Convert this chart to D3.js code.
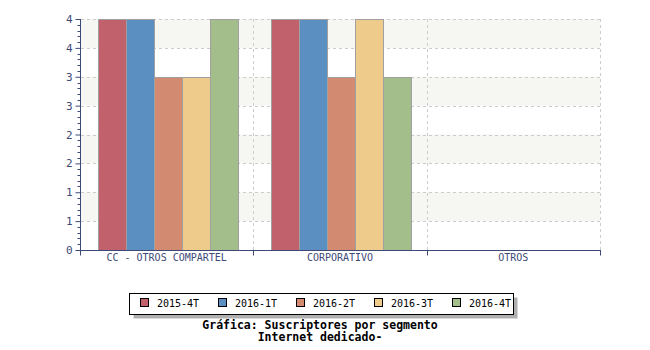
<!DOCTYPE html>
<html>
<head>
<meta charset="utf-8">
<script src="https://cdn.jsdelivr.net/npm/d3@7"></script>
<style>
html,body{margin:0;padding:0;background:#fff;}
svg{display:block;}
</style>
</head>
<body>
<svg id="chart" width="650" height="350"></svg>
<script>
const categories = ["CC - OTROS COMPARTEL", "CORPORATIVO", "OTROS"];
const seriesNames = ["2015-4T", "2016-1T", "2016-2T", "2016-3T", "2016-4T"];
const s2015_4T = [4, 4, null];
const s2016_1T = [4, 4, null];
const s2016_2T = [3, 3, null];
const s2016_3T = [3, 4, null];
const s2016_4T = [4, 3, null];
const seriesValues = [s2015_4T, s2016_1T, s2016_2T, s2016_3T, s2016_4T];
const seriesColors = ["#c0616b", "#5b8fc1", "#d28a70", "#eecb8b", "#a4be8b"];
const yTicks = [0, 0.5, 1, 1.5, 2, 2.5, 3, 3.5, 4];
const titleLines = ["Gráfica: Suscriptores por segmento", "Internet dedicado-"];

const svg = d3.select("#chart");
const L = 80, R = 600, T = 19, B = 250;
const axisColor = "#3d4a78";
const font = "'DejaVu Sans Mono', monospace";

const x = d3.scaleBand().domain(categories).range([L, R]).padding(0);
const x1 = d3.scaleBand().domain(seriesNames).range([0, x.bandwidth()]).paddingOuter(0.6).paddingInner(0);
const y = d3.scaleLinear().domain([0, 4]).range([B, T]);

// alternating bands
for (let i = 0; i < yTicks.length - 1; i++) {
  if (i % 2 === 1) {
    svg.append("rect").attr("x", L + 1).attr("y", y(yTicks[i + 1]))
      .attr("width", R - L - 1).attr("height", y(yTicks[i]) - y(yTicks[i + 1]))
      .attr("fill", "#f6f6f2");
  }
}
// horizontal grid
svg.append("g").selectAll("line").data(yTicks.slice(1)).join("line")
  .attr("x1", L + 1).attr("x2", R).attr("y1", d => Math.round(y(d)) + 0.5).attr("y2", d => Math.round(y(d)) + 0.5)
  .attr("stroke", "#cccccc").attr("stroke-dasharray", "3,3");
// vertical grid
svg.append("g").selectAll("line").data(categories).join("line")
  .attr("x1", d => Math.round(x(d) + x.bandwidth()) + 0.5).attr("x2", d => Math.round(x(d) + x.bandwidth()) + 0.5)
  .attr("y1", T).attr("y2", B)
  .attr("stroke", "#cccccc").attr("stroke-dasharray", "3,3");

// bars
const g = svg.append("g");
categories.forEach((c, ci) => {
  seriesNames.forEach((s, si) => {
    const v = seriesValues[si][ci];
    if (v == null) return;
    g.append("rect")
      .attr("x", Math.round(x(c) + x1(s)) + 1.5)
      .attr("y", Math.round(y(v)) + 0.5)
      .attr("width", Math.round(x1.bandwidth()))
      .attr("height", Math.round(y(0)) - Math.round(y(v)))
      .attr("fill", seriesColors[si])
      .attr("stroke", "#a0a0a0").attr("stroke-width", 1);
  });
});

// y axis
const yAxis = d3.axisLeft(y).tickValues(yTicks).tickSize(5).tickPadding(3)
  .tickFormat(d => String(Math.round(d)));
const ya = svg.append("g").attr("transform", `translate(${L + 0.5},0)`).call(yAxis);
ya.select(".domain").attr("stroke", axisColor).attr("d", `M0,${T}V${B + 0.5}`);
ya.selectAll(".tick line").attr("stroke", axisColor);
ya.selectAll(".tick text").attr("fill", axisColor).style("font-family", font).style("font-size", "11px");
// minor ticks
const minor = d3.range(0, 41).map(i => i / 10).filter(v => Math.abs(v * 2 - Math.round(v * 2)) > 1e-6);
ya.append("g").selectAll("line").data(minor).join("line")
  .attr("x1", -3).attr("x2", 0).attr("y1", d => Math.round(y(d)) + 0.5).attr("y2", d => Math.round(y(d)) + 0.5)
  .attr("stroke", axisColor);

// x axis
const xa = svg.append("g").attr("transform", `translate(0,${B + 0.5})`);
xa.append("line").attr("x1", L).attr("x2", R + 1).attr("stroke", axisColor);
const bounds = [L].concat(categories.map(c => x(c) + x.bandwidth()));
xa.selectAll("line.tk").data(bounds).join("line").attr("class", "tk")
  .attr("x1", d => Math.round(d) + 0.5).attr("x2", d => Math.round(d) + 0.5).attr("y1", 0).attr("y2", 5)
  .attr("stroke", axisColor);
xa.selectAll("text").data(categories).join("text")
  .attr("x", d => x(d) + x.bandwidth() / 2).attr("y", 10)
  .attr("text-anchor", "middle").attr("fill", axisColor)
  .style("font-family", font).style("font-size", "10px").text(d => d);

// legend
const lx = 129.5, ly = 293.5, lw = 384, lh = 21;
svg.append("rect").attr("x", lx + 4).attr("y", ly + 4).attr("width", lw).attr("height", lh).attr("fill", "#b0b0b0");
svg.append("rect").attr("x", lx).attr("y", ly).attr("width", lw).attr("height", lh).attr("fill", "#fff").attr("stroke", "#000");
const leg = svg.append("g");
seriesNames.forEach((s, i) => {
  const ix = 139.5 + i * 78.2;
  leg.append("rect").attr("x", Math.round(ix) + 0.5).attr("y", 298.5).attr("width", 8).attr("height", 8)
    .attr("fill", seriesColors[i]).attr("stroke", "#000");
  leg.append("text").attr("x", Math.round(ix) + 17).attr("y", 307)
    .style("font-family", font).style("font-size", "10px").attr("fill", "#000").text(s);
});

// title
svg.selectAll("text.title").data(titleLines).join("text").attr("class", "title")
  .attr("x", 320).attr("y", (d, i) => 328.5 + i * 12.5).attr("text-anchor", "middle")
  .style("font-family", font).style("font-size", "11.5px").style("font-weight", "bold").attr("fill", "#000")
  .text(d => d);
</script>
</body>
</html>
